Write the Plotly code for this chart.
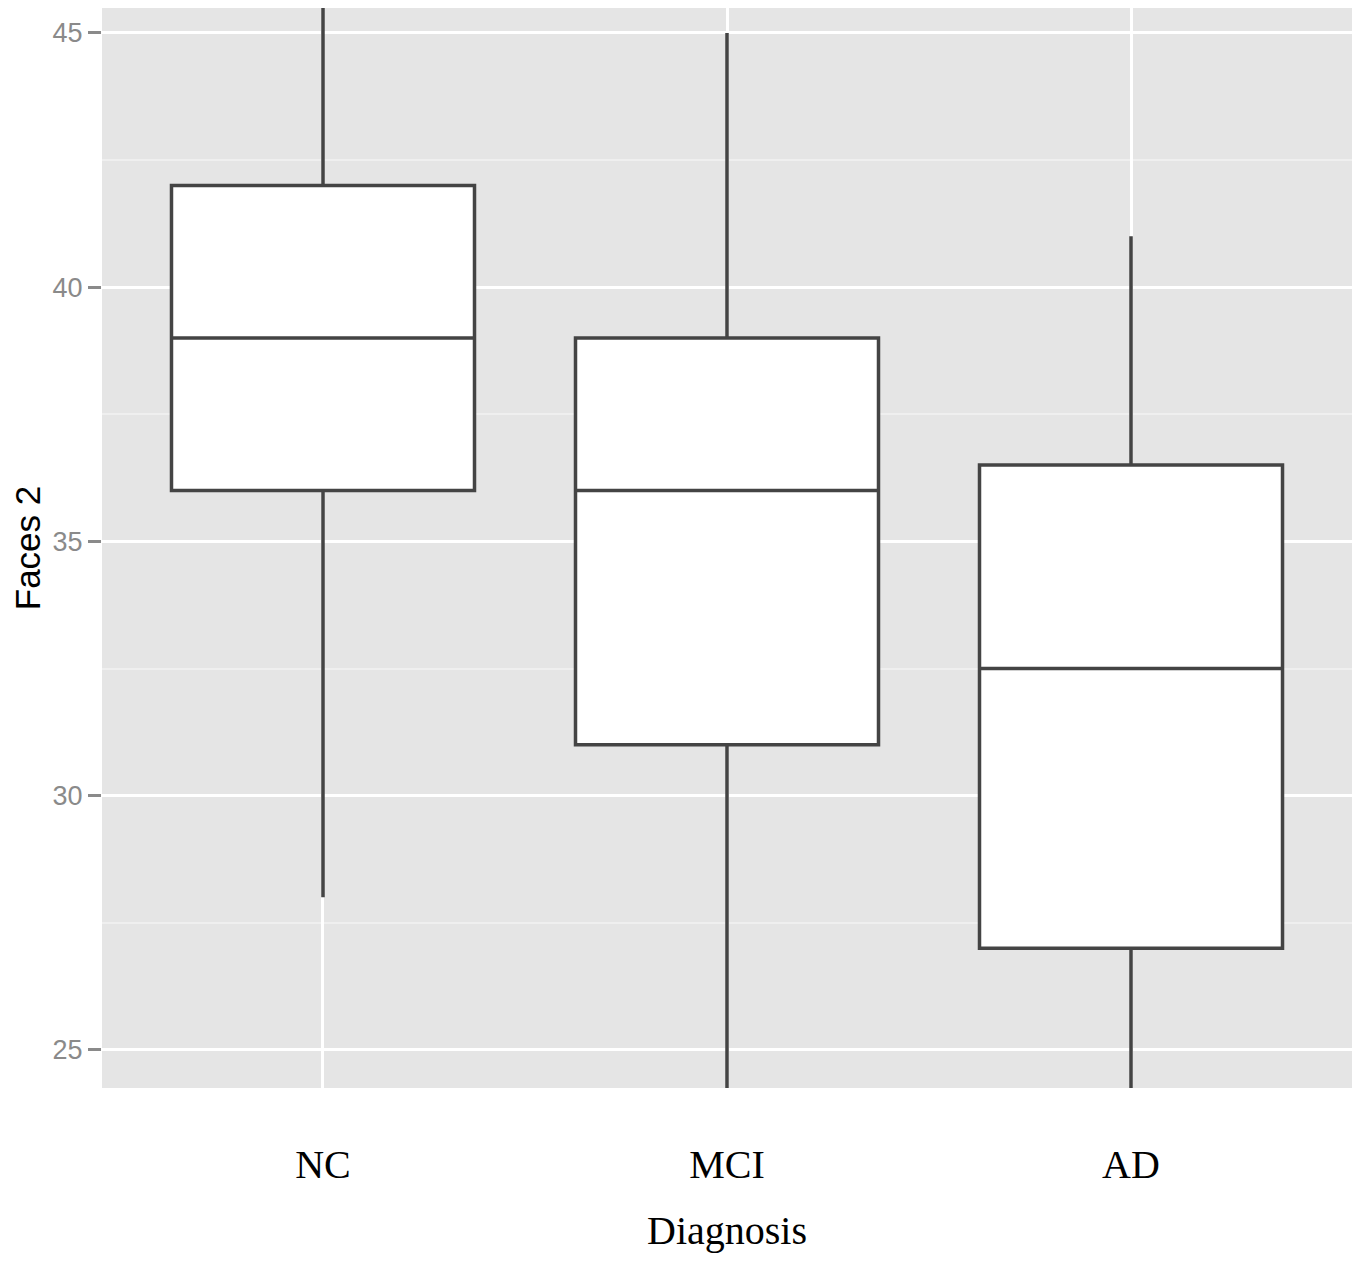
import plotly.graph_objects as go

categories = ["NC", "MCI", "AD"]
q1 = [36, 31, 27]
median = [39, 36, 32.5]
q3 = [42, 39, 36.5]
lowerfence = [28, 21, 20]
upperfence = [48, 45, 41]
y_ticks = [25, 30, 35, 40, 45]

fig = go.Figure()
fig.add_trace(go.Box(
    x=categories, q1=q1, median=median, q3=q3,
    lowerfence=lowerfence, upperfence=upperfence,
    width=0.75, whiskerwidth=0,
    fillcolor="white", line=dict(color="#444444", width=3.5),
    boxpoints=False, showlegend=False, hoverinfo="skip",
))

fig.update_layout(
    width=1347, height=1245,
    margin=dict(l=94, r=3, t=0, b=165),
    paper_bgcolor="white", plot_bgcolor="#e5e5e5",
    showlegend=False,
)
fig.update_xaxes(
    type="category", categoryorder="array", categoryarray=categories,
    range=[-0.547, 2.547],
    showgrid=True, gridcolor="white", gridwidth=3,
    zeroline=False, showline=False,
    ticks="outside", ticklen=41, tickcolor="rgba(0,0,0,0)",
    tickfont=dict(family="Liberation Serif", size=40, color="black"),
    title=dict(text="Diagnosis", font=dict(family="Liberation Serif", size=40, color="black"), standoff=35),
)
fig.update_yaxes(
    range=[24.25, 45.49],
    tickvals=y_ticks,
    showgrid=True, gridcolor="white", gridwidth=3,
    minor=dict(dtick=2.5, showgrid=True, gridcolor="#efefef", gridwidth=1.5, ticks=""),
    zeroline=False, showline=False,
    ticks="outside", ticklen=13, tickwidth=3, tickcolor="#8a8a8a",
    tickfont=dict(family="Liberation Sans", size=27, color="#8a8a8a"),
    title=dict(text="Faces 2", font=dict(family="Liberation Sans", size=35, color="black"), standoff=5),
)
fig.write_html("out.html")
